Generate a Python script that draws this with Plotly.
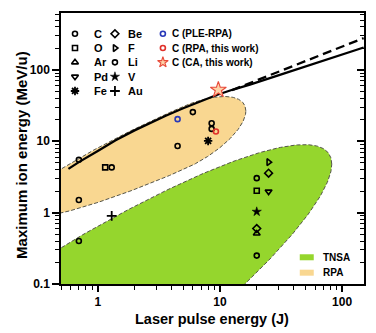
import numpy as np
import plotly.graph_objects as go

# ---------------- measured points: laser pulse energy (J), max ion energy (MeV/u)
c_x = [0.7, 0.7, 0.7, 1.3, 4.5, 6.0, 8.55, 8.55, 20]
c_y = [5.5, 1.5, 0.40, 4.3, 8.6, 25.6, 17.9, 14.9, 3.04]
o_x = [1.15, 20]
o_y = [4.3, 2.03]
ar_x = [20]
ar_y = [0.51]
pd_x = [25]
pd_y = [1.97]
fe_x = [8.0]
fe_y = [10.1]
be_x = [25, 20]
be_y = [3.57, 0.60]
f_x = [25]
f_y = [5.1]
li_x = [20]
li_y = [0.25]
v_x = [20]
v_y = [1.03]
au_x = [1.3]
au_y = [0.90]
ple_x = [4.5]
ple_y = [20.4]
rpa_x = [9.27]
rpa_y = [13.7]
ca_x = [9.7]
ca_y = [52.6]

# ---------------- scaling curves
solid_x = [0.575, 0.7, 1.0, 1.4, 2.0, 2.68, 3.6, 5.0, 7.0, 9.4, 13.0, 17.6, 30, 50, 90, 150]
solid_y = [4.1, 5.1, 7.3, 10.3, 14.2, 18.2, 22.8, 29.0, 36.8, 44.5, 53.5, 62.0, 84, 112, 155, 206]
dash_x = [12.5, 150]
dash_y = [51.9, 279]

# ---------------- regimes (oval regions in log10 space)
# centre (log10 E, log10 Emax), slope of the chord-midline, half height, left/right half widths
rpa_region = dict(u0=0.697, v0=1.043, slope=0.743, half_h=0.442, w_left=1.39, w_right=0.515)
tnsa_region = dict(u0=-0.881, v0=-2.438, slope=1.115, half_h=1.333, w_left=2.796, w_right=2.796)

x_ticks = [1, 10, 100]
y_ticks = [0.1, 1, 10, 100]

FONT = "Arial, Liberation Sans, sans-serif"
GREEN = "#95d62d"
ORANGE = "#f9d791"


def oval(u0, v0, slope, half_h, w_left, w_right, n=500):
    t = np.linspace(0, 2 * np.pi, n)
    c = np.cos(t)
    du = np.where(c >= 0, w_right, w_left) * c
    u = u0 + du
    v = v0 + slope * du + half_h * np.sin(t)
    return 10 ** u, 10 ** v


fig = go.Figure()

for reg, col in ((tnsa_region, GREEN), (rpa_region, ORANGE)):
    ox, oy = oval(**reg)
    fig.add_trace(go.Scatter(x=ox, y=oy, mode="lines", fill="toself", fillcolor=col,
                             line=dict(color="#55554a", width=1, dash="4px,2px"),
                             hoverinfo="skip", showlegend=False))

fig.add_trace(go.Scatter(x=solid_x, y=solid_y, mode="lines", line=dict(color="black", width=2.3),
                         showlegend=False))
fig.add_trace(go.Scatter(x=dash_x, y=dash_y, mode="lines", line=dict(color="black", width=2.3, dash="9px,5px"),
                         showlegend=False))

K = "black"
styles = [
    ("C", c_x, c_y, dict(symbol="circle-open", size=5, color=K, line=dict(width=1.6, color=K))),
    ("O", o_x, o_y, dict(symbol="square-open", size=5, color=K, line=dict(width=1.6, color=K))),
    ("Ar", ar_x, ar_y, dict(symbol="triangle-up-open", size=6, color=K, line=dict(width=1.6, color=K))),
    ("Pd", pd_x, pd_y, dict(symbol="triangle-down-open", size=6, color=K, line=dict(width=1.6, color=K))),
    ("Fe", fe_x, fe_y, dict(symbol="asterisk-open", size=7, color=K, line=dict(width=1.8, color=K))),
    ("Be", be_x, be_y, dict(symbol="diamond-open", size=6, color=K, line=dict(width=1.6, color=K))),
    ("F", f_x, f_y, dict(symbol="triangle-right-open", size=6, color=K, line=dict(width=1.6, color=K))),
    ("Li", li_x, li_y, dict(symbol="circle-open", size=5, color=K, line=dict(width=1.6, color=K))),
    ("V", v_x, v_y, dict(symbol="star", size=7, color=K, line=dict(width=0.5, color=K))),
    ("Au", au_x, au_y, dict(symbol="cross-thin-open", size=7, color=K, line=dict(width=1.8, color=K))),
    ("C (PLE-RPA)", ple_x, ple_y, dict(symbol="circle-open", size=5, color="#2838b8", line=dict(width=1.6, color="#2838b8"))),
    ("C (RPA, this work)", rpa_x, rpa_y, dict(symbol="circle-open", size=5, color="#e0302a", line=dict(width=1.6, color="#e0302a"))),
    ("C (CA, this work)", ca_x, ca_y, dict(symbol="star", size=12, color="#fdd3a8", line=dict(width=1.1, color="#e84a3a"))),
]
for name, xs, ys, mk in styles:
    fig.add_trace(go.Scatter(x=xs, y=ys, mode="markers", marker=mk, name=name, showlegend=False,
                             cliponaxis=False))

# ---------------- key and axis titles (drawn in plot-fraction coordinates)
L, R, T, B = 61, 364.3, 13.3, 284.0


def fx(px):
    return (px - L) / (R - L)


def fy(py):
    return (B - py) / (B - T)


rows = [34, 48.3, 62.6, 76.9, 91.2]
columns = [(75, 92, styles[0:5], 11), (115, 126, styles[5:10], 11), (163, 170, styles[10:13], 10)]
annotations = []
for mx, tx, items, fsize in columns:
    for ry, (name, _, _, mk) in zip(rows, items):
        if name.startswith("C (CA"):
            mk = dict(mk, size=8)
        fig.add_trace(go.Scatter(x=[fx(mx)], y=[fy(ry)], mode="markers", marker=mk, xaxis="x3", yaxis="y3",
                                 showlegend=False, hoverinfo="skip", cliponaxis=False))
        annotations.append(dict(x=fx(tx), y=fy(ry), xref="paper", yref="paper", text="<b>%s</b>" % name,
                                showarrow=False, xanchor="left", yanchor="middle",
                                font=dict(family=FONT, size=fsize, color="black")))

shapes = []
for ry, name, col in ((257.3, "TNSA", GREEN), (272.7, "RPA", ORANGE)):
    shapes.append(dict(type="rect", xref="paper", yref="paper", x0=fx(300), x1=fx(314),
                       y0=fy(ry + 3), y1=fy(ry - 3), fillcolor=col, line=dict(width=0)))
    annotations.append(dict(x=fx(321), y=fy(ry), xref="paper", yref="paper", text="<b>%s</b>" % name,
                            showarrow=False, xanchor="left", yanchor="middle",
                            font=dict(family=FONT, size=10, color="black")))

annotations.append(dict(x=fx(212), y=fy(318.5), xref="paper", yref="paper", text="<b>Laser pulse energy (J)</b>",
                        showarrow=False, xanchor="center", yanchor="middle",
                        font=dict(family=FONT, size=14.5, color="black")))
annotations.append(dict(x=fx(22), y=fy(155), xref="paper", yref="paper", text="<b>Maximum ion energy (MeV/u)</b>",
                        showarrow=False, xanchor="center", yanchor="middle", textangle=-90,
                        font=dict(family=FONT, size=15, color="black")))

# keeps the right-hand axis (inside ticks) alive
fig.add_trace(go.Scatter(x=[1], y=[1], yaxis="y2", mode="markers", marker=dict(opacity=0),
                         showlegend=False, hoverinfo="skip"))

x_minor = [m * d for d in (0.1, 1, 10) for m in range(2, 10) if 0.5 <= m * d <= 150]
y_minor = [m * d for d in (0.1, 1, 10, 100) for m in range(2, 10) if m * d <= 600]

tickfont = dict(family=FONT, size=12, color="black", weight="bold")

fig.update_layout(
    width=376, height=333,
    margin=dict(l=L, r=376 - R, t=T, b=333 - B, autoexpand=False),
    paper_bgcolor="white", plot_bgcolor="white",
    showlegend=False,
    xaxis=dict(type="log", range=[np.log10(0.5), np.log10(151)], showgrid=False, zeroline=False,
               showline=True, linecolor="black", linewidth=1.5, mirror=True, automargin=False,
               ticks="outside", ticklen=6, tickwidth=1.5, tickcolor="black",
               tickvals=x_ticks, ticktext=[str(v) for v in x_ticks], tickfont=tickfont,
               minor=dict(ticks="outside", ticklen=4, tickwidth=1, tickcolor="black", tickvals=x_minor)),
    yaxis=dict(type="log", range=[-1, 2.797], showgrid=False, zeroline=False,
               showline=True, linecolor="black", linewidth=1.5, mirror=True, automargin=False,
               ticks="outside", ticklen=7, tickwidth=1.5, tickcolor="black",
               tickvals=y_ticks, ticktext=["0.1", "1", "10", "100"], tickfont=tickfont,
               minor=dict(ticks="outside", ticklen=4, tickwidth=1, tickcolor="black", tickvals=y_minor)),
    yaxis2=dict(type="log", range=[-1, 2.797], overlaying="y", side="right", showgrid=False, zeroline=False,
                showline=False, ticks="inside", ticklen=7, tickwidth=1.5, tickcolor="black", automargin=False,
                tickvals=y_ticks, showticklabels=False,
                minor=dict(ticks="inside", ticklen=4, tickwidth=1, tickcolor="black", tickvals=y_minor)),
    xaxis3=dict(overlaying="x", range=[0, 1], visible=False),
    yaxis3=dict(overlaying="y", range=[0, 1], visible=False),
    annotations=annotations,
    shapes=shapes,
)

fig.write_html("out.html")
